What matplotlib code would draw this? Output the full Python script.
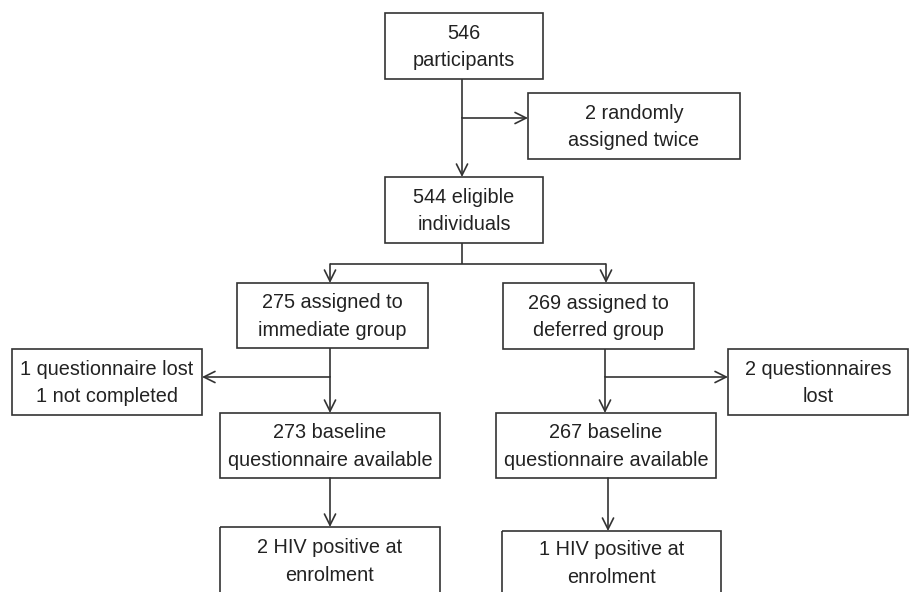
import matplotlib.pyplot as plt
from matplotlib.patches import Rectangle

plt.rcParams['font.family'] = ['Liberation Sans', 'DejaVu Sans']

# box labels
labels = [
    '546\nparticipants',
    '2 randomly\nassigned twice',
    '544 eligible\nindividuals',
    '275 assigned to\nimmediate group',
    '269 assigned to\ndeferred group',
    '1 questionnaire lost\n1 not completed',
    '2 questionnaires\nlost',
    '273 baseline\nquestionnaire available',
    '267 baseline\nquestionnaire available',
    '2 HIV positive at\nenrolment',
    '1 HIV positive at\nenrolment',
]

# box positions in pixels: left, top, right, bottom
boxes = [
    (385, 13, 543, 79),
    (528, 93, 740, 159),
    (385, 177, 543, 243),
    (237, 283, 428, 348),
    (503, 283, 694, 349),
    (12, 349, 202, 415),
    (728, 349, 908, 415),
    (220, 413, 440, 478),
    (496, 413, 716, 478),
    (220, 527, 440, 594),
    (502, 531, 721, 598),
]

# plain connector lines
lines = [
    ((462, 79), (462, 118)),
    ((462, 243), (462, 264)),
    ((330, 264), (606, 264)),
    ((330, 348), (330, 377)),
    ((605, 349), (605, 377)),
]

# arrows: start -> end
arrows = [
    ((462, 118), (462, 177)),
    ((462, 118), (528, 118)),
    ((330, 264), (330, 283)),
    ((606, 264), (606, 283)),
    ((330, 377), (330, 413)),
    ((330, 377), (202, 377)),
    ((605, 377), (605, 413)),
    ((605, 377), (728, 377)),
    ((330, 478), (330, 527)),
    ((608, 478), (608, 531)),
]

ec = '#333333'

fig = plt.figure(figsize=(9.09, 5.92), dpi=100)
ax = fig.add_axes([0, 0, 1, 1])
ax.set_xlim(0, 909)
ax.set_ylim(592, 0)
ax.axis('off')

for lab, (x0, y0, x1, y1) in zip(labels, boxes):
    ax.add_patch(Rectangle((x0, y0), x1 - x0, y1 - y0, fill=False, ec=ec, lw=1.2))
    ax.text((x0 + x1) / 2, (y0 + min(y1, 594)) / 2 + 1, lab, ha='center', va='center',
            fontsize=14.3, color='#222222', linespacing=1.55)

for (a, b) in lines:
    ax.plot([a[0], b[0]], [a[1], b[1]], color=ec, lw=1.2, solid_capstyle='butt')

for (a, b) in arrows:
    ax.annotate('', xy=b, xytext=a,
                arrowprops=dict(arrowstyle='->', color=ec, lw=1.2,
                                shrinkA=0, shrinkB=0, mutation_scale=20))

fig.savefig('out.png', dpi=100)
